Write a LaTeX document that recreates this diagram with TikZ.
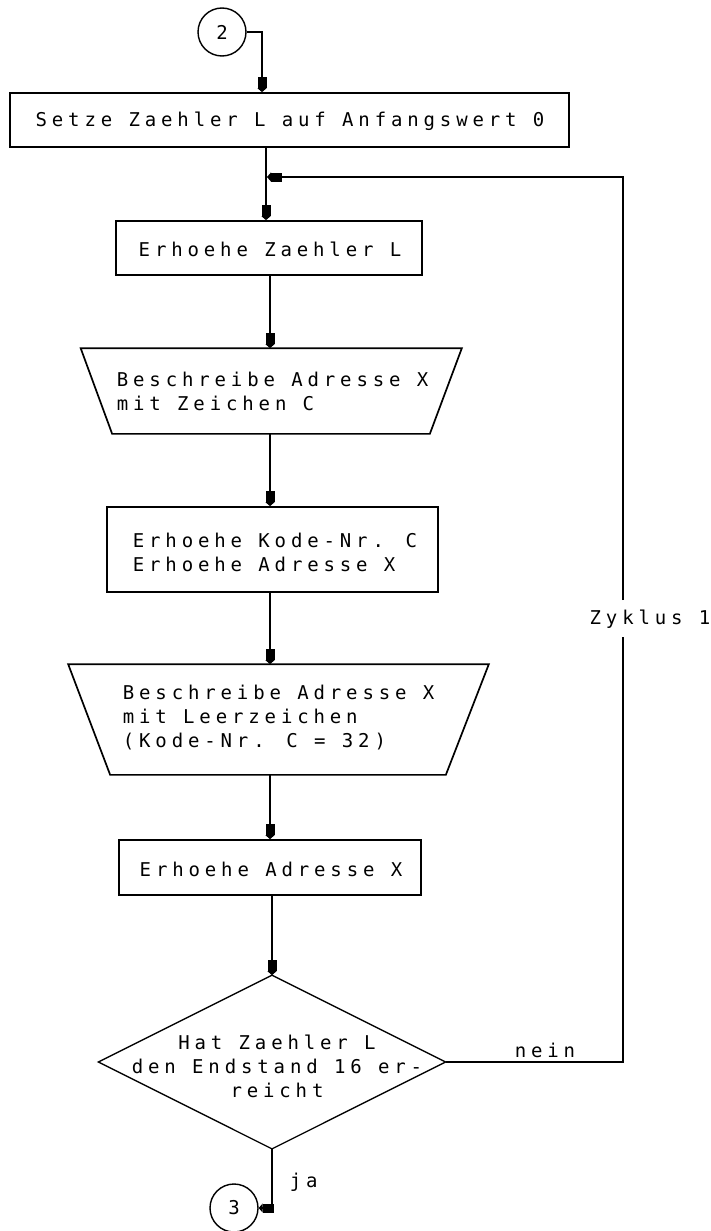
\documentclass[tikz,border=0pt]{standalone}
\usepackage{fontspec}
\newfontfamily\plotfont[LetterSpace=25.6]{DejaVu Sans Mono}
\usetikzlibrary{arrows.meta,calc}
\begin{document}
\begin{tikzpicture}[x=1pt,y=-1pt,line width=1.7pt,
  every node/.style={font=\plotfont\fontsize{19}{24}\selectfont,inner sep=0pt},
  boxnode/.style={draw,rectangle,line width=1.7pt},
  shapeonly/.style={rectangle,draw=none},
  conn/.style={circle,draw,minimum size=48pt,line width=1.4pt},
  arr/.style={-{Rectangle[length=11pt,width=9pt]Triangle[length=4pt,width=9pt]}},
  lbl/.style={align=left}]
\useasboundingbox (0,0) rectangle (710,1231);
% columns
\coordinate (k1) at (262,0);
\coordinate (k2) at (266,0);
\coordinate (k3) at (270,0);
\coordinate (junc) at (267,177);
\coordinate (gaplow) at (623,637);
\coordinate (gaphigh) at (623,600);
% nodes
\node[conn] (c2) at (222,32) {2};
\node[boxnode,minimum width=559pt,minimum height=54pt] (b1) at (289.5,120) {};
\node (b1t) at (290,121) {Setze Zaehler L auf Anfangswert 0};
\node[boxnode,minimum width=306pt,minimum height=54pt] (b2) at (269,248) {};
\node (b2t) at (270,249) {Erhoehe Zaehler L};
\node[shapeonly,minimum width=379.5pt,minimum height=84pt] (t1) at (271.25,391) {};
\node[lbl,anchor=west] (t1t) at (116,391) {Beschreibe Adresse X\\mit Zeichen C};
\node[boxnode,minimum width=331pt,minimum height=85pt] (b3) at (272.5,549.5) {};
\node[lbl,anchor=west] (b3t) at (132,552) {Erhoehe Kode-Nr. C\\Erhoehe Adresse X};
\node[shapeonly,minimum width=419pt,minimum height=109pt] (t2) at (278.5,719.5) {};
\node[lbl,anchor=west] (t2t) at (122,718) {Beschreibe Adresse X\\mit Leerzeichen\\(Kode-Nr. C = 32)};
\node[boxnode,minimum width=302pt,minimum height=55pt] (b4) at (270,867.5) {};
\node (b4t) at (271,869) {Erhoehe Adresse X};
\node[shapeonly,minimum width=345.5pt,minimum height=172pt] (d) at (272,1062) {};
\node[align=center] (dt) at (277,1066) {Hat Zaehler L\\den Endstand 16 er-\\reicht};
\node[conn] (c3) at (234,1208) {3};
\node[anchor=west] (ja) at (289,1182) {ja};
\node (nein) at (545,1050) {nein};
\node (zy) at (650,619) {Zyklus 1};
% shapes drawn from anchors
\draw ($(t1.north west)$) -- (t1.north east) -- ($(t1.south east)+(-32,0)$) -- ($(t1.south west)+(31.5,0)$) -- cycle;
\draw ($(t2.north west)$) -- (t2.north east) -- ($(t2.south east)+(-43,0)$) -- ($(t2.south west)+(42,0)$) -- cycle;
\draw[line width=1.3pt] (d.north) -- (d.east) -- (d.south) -- (d.west) -- cycle;
% connectors
\draw[arr] (c2.east) -| (b1.north -| k1);
\draw[arr] (b1.south -| k2) -- (b2.north -| k2);
\draw[arr] (b2.south -| k3) -- (t1.north -| k3);
\draw[arr] (t1.south -| k3) -- (b3.north -| k3);
\draw[arr] (b3.south -| k3) -- (t2.north -| k3);
\draw[arr] (t2.south -| k3) -- (b4.north -| k3);
\draw[arr] (b4.south -| d.north) -- (d.north);
\draw (d.east) -| (gaplow);
\draw[arr] (gaphigh) |- (junc);
\draw[arr] (d.south) |- (c3.east);
\end{tikzpicture}
\end{document}
